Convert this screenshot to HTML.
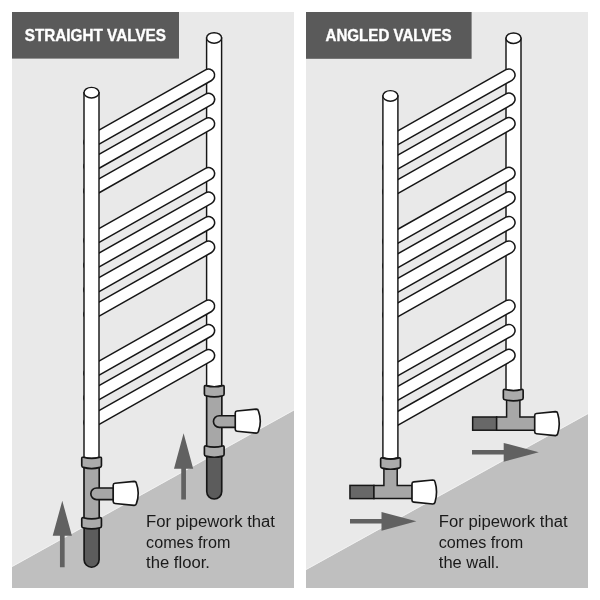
<!DOCTYPE html>
<html>
<head>
<meta charset="utf-8">
<title>Straight valves vs angled valves</title>
<style>
html,body{margin:0;padding:0;background:#fff;}
body{width:600px;height:600px;overflow:hidden;font-family:"Liberation Sans",sans-serif;}
svg{display:block;will-change:transform;}
</style>
</head>
<body>
<svg width="600" height="600" viewBox="0 0 600 600">
<rect x="12" y="12" width="282" height="576" fill="#e9e9e9"/>
<rect x="306" y="12" width="282" height="576" fill="#e9e9e9"/>
<polygon points="12,567 294,410.4 294,588 12,588" fill="#bfbfbf"/>
<polygon points="306,570 588,414 588,588 306,588" fill="#bfbfbf"/>
<line x1="12" y1="566.5" x2="294" y2="409.9" stroke="#f2f2f2" stroke-width="0.9"/>
<line x1="306" y1="569.5" x2="588" y2="413.5" stroke="#f2f2f2" stroke-width="0.9"/>
<rect x="12" y="12" width="167" height="46.6" fill="#5a5a5a"/>
<rect x="306" y="12" width="165.6" height="46.8" fill="#5a5a5a"/>
<text x="24.7" y="41" font-family="'Liberation Sans', sans-serif" font-size="15.9" font-weight="bold" fill="#fff" stroke="#fff" stroke-width="0.35" textLength="141.3" lengthAdjust="spacingAndGlyphs">STRAIGHT VALVES</text>
<text x="325.5" y="41" font-family="'Liberation Sans', sans-serif" font-size="15.9" font-weight="bold" fill="#fff" stroke="#fff" stroke-width="0.35" textLength="126.2" lengthAdjust="spacingAndGlyphs">ANGLED VALVES</text>
<!-- left radiator -->
<path d="M206.6,37.95 V385.5 Q214.1,388.1 221.6,385.5 V37.95 Z" fill="#fff" stroke="#161616" stroke-width="1.45"/><ellipse cx="214.1" cy="37.95" rx="7.5" ry="5.3" fill="#fff" stroke="#161616" stroke-width="1.45"/>
<line x1="90" y1="142.24" x2="208.55" y2="75.2" stroke="#161616" stroke-width="13.7" stroke-linecap="round"/>
<line x1="90" y1="142.24" x2="208.55" y2="75.2" stroke="#fff" stroke-width="10.65" stroke-linecap="round"/>
<line x1="90" y1="166.44" x2="208.55" y2="99.4" stroke="#161616" stroke-width="13.7" stroke-linecap="round"/>
<line x1="90" y1="166.44" x2="208.55" y2="99.4" stroke="#fff" stroke-width="10.65" stroke-linecap="round"/>
<line x1="90" y1="190.94" x2="208.55" y2="123.9" stroke="#161616" stroke-width="13.7" stroke-linecap="round"/>
<line x1="90" y1="190.94" x2="208.55" y2="123.9" stroke="#fff" stroke-width="10.65" stroke-linecap="round"/>
<line x1="90" y1="240.64" x2="208.55" y2="173.6" stroke="#161616" stroke-width="13.7" stroke-linecap="round"/>
<line x1="90" y1="240.64" x2="208.55" y2="173.6" stroke="#fff" stroke-width="10.65" stroke-linecap="round"/>
<line x1="90" y1="265.14" x2="208.55" y2="198.1" stroke="#161616" stroke-width="13.7" stroke-linecap="round"/>
<line x1="90" y1="265.14" x2="208.55" y2="198.1" stroke="#fff" stroke-width="10.65" stroke-linecap="round"/>
<line x1="90" y1="289.74" x2="208.55" y2="222.7" stroke="#161616" stroke-width="13.7" stroke-linecap="round"/>
<line x1="90" y1="289.74" x2="208.55" y2="222.7" stroke="#fff" stroke-width="10.65" stroke-linecap="round"/>
<line x1="90" y1="314.24" x2="208.55" y2="247.2" stroke="#161616" stroke-width="13.7" stroke-linecap="round"/>
<line x1="90" y1="314.24" x2="208.55" y2="247.2" stroke="#fff" stroke-width="10.65" stroke-linecap="round"/>
<line x1="90" y1="373.24" x2="208.55" y2="306.2" stroke="#161616" stroke-width="13.7" stroke-linecap="round"/>
<line x1="90" y1="373.24" x2="208.55" y2="306.2" stroke="#fff" stroke-width="10.65" stroke-linecap="round"/>
<line x1="90" y1="397.74" x2="208.55" y2="330.7" stroke="#161616" stroke-width="13.7" stroke-linecap="round"/>
<line x1="90" y1="397.74" x2="208.55" y2="330.7" stroke="#fff" stroke-width="10.65" stroke-linecap="round"/>
<line x1="90" y1="422.64" x2="208.55" y2="355.6" stroke="#161616" stroke-width="13.7" stroke-linecap="round"/>
<line x1="90" y1="422.64" x2="208.55" y2="355.6" stroke="#fff" stroke-width="10.65" stroke-linecap="round"/>
<path d="M84,92.7 V457.3 Q91.5,459.9 99,457.3 V92.7 Z" fill="#fff" stroke="#161616" stroke-width="1.45"/><ellipse cx="91.5" cy="92.7" rx="7.5" ry="5.3" fill="#fff" stroke="#161616" stroke-width="1.45"/>
<path d="M206.75,455.7 V491.5 A7.5,7.5 0 0 0 221.75,491.5 V455.7 Z" fill="#5c5c5c" stroke="#161616" stroke-width="1.65"/>
<rect x="206.65" y="393.3" width="15.2" height="54.4" fill="#a7a7a7" stroke="#161616" stroke-width="1.65"/>
<path d="M236.25,415.7 H219.3 A5.85,5.85 0 0 0 219.3,427.4 H236.25 Z" fill="#a7a7a7" stroke="#161616" stroke-width="1.65"/>
<path d="M235.25,413 Q235.25,411.2 237.05,411.05 L256.25,409.15 Q258.05,409.15 258.45,410.95 A29.8,29.8 0 0 1 258.45,431.35 Q258.05,433.15 256.25,433.15 L237.05,431.25 Q235.25,431.1 235.25,429.3 Z" fill="#fff" stroke="#161616" stroke-width="1.65" stroke-linejoin="round"/>
<path d="M204.4,386.8 Q204.4,385.3 205.9,385.6 Q214.25,387.9 222.6,385.6 Q224.1,385.3 224.1,386.8 V393.9 Q224.1,395.4 222.6,395.7 Q214.25,398 205.9,395.7 Q204.4,395.4 204.4,393.9 Z" fill="#ababab" stroke="#161616" stroke-width="1.65"/>
<path d="M204.4,447.2 Q204.4,445.7 205.9,446 Q214.25,448.3 222.6,446 Q224.1,445.7 224.1,447.2 V454.3 Q224.1,455.8 222.6,456.1 Q214.25,458.4 205.9,456.1 Q204.4,455.8 204.4,454.3 Z" fill="#ababab" stroke="#161616" stroke-width="1.65"/>
<path d="M84.1,527.4 V559.7 A7.5,7.5 0 0 0 99.1,559.7 V527.4 Z" fill="#5c5c5c" stroke="#161616" stroke-width="1.65"/>
<rect x="84" y="465" width="15.2" height="54.4" fill="#a7a7a7" stroke="#161616" stroke-width="1.65"/>
<path d="M113.6,487.95 H96.65 A5.85,5.85 0 0 0 96.65,499.65 H113.6 Z" fill="#a7a7a7" stroke="#161616" stroke-width="1.65"/>
<path d="M113.2,485.25 Q113.2,483.45 115,483.3 L134.2,481.4 Q136,481.4 136.4,483.2 A29.8,29.8 0 0 1 136.4,503.6 Q136,505.4 134.2,505.4 L115,503.5 Q113.2,503.35 113.2,501.55 Z" fill="#fff" stroke="#161616" stroke-width="1.65" stroke-linejoin="round"/>
<path d="M81.75,458.5 Q81.75,457 83.25,457.3 Q91.6,459.6 99.95,457.3 Q101.45,457 101.45,458.5 V465.6 Q101.45,467.1 99.95,467.4 Q91.6,469.7 83.25,467.4 Q81.75,467.1 81.75,465.6 Z" fill="#ababab" stroke="#161616" stroke-width="1.65"/>
<path d="M81.75,518.9 Q81.75,517.4 83.25,517.7 Q91.6,520 99.95,517.7 Q101.45,517.4 101.45,518.9 V526 Q101.45,527.5 99.95,527.8 Q91.6,530.1 83.25,527.8 Q81.75,527.5 81.75,526 Z" fill="#ababab" stroke="#161616" stroke-width="1.65"/>
<path d="M62.3,500.8 L71.9,535.8 H64.65 V567.3 H59.95 V535.8 H52.7 Z" fill="#616161"/>
<path d="M183.6,433.3 L193.2,468.7 H185.95 V499.6 H181.25 V468.7 H174 Z" fill="#616161"/>
<text x="146.1" y="526.7" font-family="'Liberation Sans', sans-serif" font-size="15.6" font-weight="normal" fill="#1a1a1a" textLength="128.9" lengthAdjust="spacingAndGlyphs">For pipework that</text>
<text x="146.1" y="547.5" font-family="'Liberation Sans', sans-serif" font-size="15.6" font-weight="normal" fill="#1a1a1a" textLength="84.3" lengthAdjust="spacingAndGlyphs">comes from</text>
<text x="146.1" y="568" font-family="'Liberation Sans', sans-serif" font-size="15.6" font-weight="normal" fill="#1a1a1a" textLength="63.9" lengthAdjust="spacingAndGlyphs">the floor.</text>
<!-- right radiator -->
<path d="M506,38.2 V389.5 Q513.5,392.1 521,389.5 V38.2 Z" fill="#fff" stroke="#161616" stroke-width="1.45"/><ellipse cx="513.5" cy="38.2" rx="7.5" ry="5.3" fill="#fff" stroke="#161616" stroke-width="1.45"/>
<line x1="388.9" y1="142.89" x2="508.95" y2="75" stroke="#161616" stroke-width="13.7" stroke-linecap="round"/>
<line x1="388.9" y1="142.89" x2="508.95" y2="75" stroke="#fff" stroke-width="10.65" stroke-linecap="round"/>
<line x1="388.9" y1="167.09" x2="508.95" y2="99.2" stroke="#161616" stroke-width="13.7" stroke-linecap="round"/>
<line x1="388.9" y1="167.09" x2="508.95" y2="99.2" stroke="#fff" stroke-width="10.65" stroke-linecap="round"/>
<line x1="388.9" y1="191.59" x2="508.95" y2="123.7" stroke="#161616" stroke-width="13.7" stroke-linecap="round"/>
<line x1="388.9" y1="191.59" x2="508.95" y2="123.7" stroke="#fff" stroke-width="10.65" stroke-linecap="round"/>
<line x1="388.9" y1="241.29" x2="508.95" y2="173.4" stroke="#161616" stroke-width="13.7" stroke-linecap="round"/>
<line x1="388.9" y1="241.29" x2="508.95" y2="173.4" stroke="#fff" stroke-width="10.65" stroke-linecap="round"/>
<line x1="388.9" y1="265.79" x2="508.95" y2="197.9" stroke="#161616" stroke-width="13.7" stroke-linecap="round"/>
<line x1="388.9" y1="265.79" x2="508.95" y2="197.9" stroke="#fff" stroke-width="10.65" stroke-linecap="round"/>
<line x1="388.9" y1="290.39" x2="508.95" y2="222.5" stroke="#161616" stroke-width="13.7" stroke-linecap="round"/>
<line x1="388.9" y1="290.39" x2="508.95" y2="222.5" stroke="#fff" stroke-width="10.65" stroke-linecap="round"/>
<line x1="388.9" y1="314.89" x2="508.95" y2="247" stroke="#161616" stroke-width="13.7" stroke-linecap="round"/>
<line x1="388.9" y1="314.89" x2="508.95" y2="247" stroke="#fff" stroke-width="10.65" stroke-linecap="round"/>
<line x1="388.9" y1="373.89" x2="508.95" y2="306" stroke="#161616" stroke-width="13.7" stroke-linecap="round"/>
<line x1="388.9" y1="373.89" x2="508.95" y2="306" stroke="#fff" stroke-width="10.65" stroke-linecap="round"/>
<line x1="388.9" y1="398.39" x2="508.95" y2="330.5" stroke="#161616" stroke-width="13.7" stroke-linecap="round"/>
<line x1="388.9" y1="398.39" x2="508.95" y2="330.5" stroke="#fff" stroke-width="10.65" stroke-linecap="round"/>
<line x1="388.9" y1="423.29" x2="508.95" y2="355.4" stroke="#161616" stroke-width="13.7" stroke-linecap="round"/>
<line x1="388.9" y1="423.29" x2="508.95" y2="355.4" stroke="#fff" stroke-width="10.65" stroke-linecap="round"/>
<path d="M382.9,95.9 V457.8 Q390.4,460.4 397.9,457.8 V95.9 Z" fill="#fff" stroke="#161616" stroke-width="1.45"/><ellipse cx="390.4" cy="95.9" rx="7.5" ry="5.3" fill="#fff" stroke="#161616" stroke-width="1.45"/>
<rect x="472.65" y="417" width="24" height="13.2" fill="#686868" stroke="#161616" stroke-width="1.5"/>
<path d="M496.65,417 H506.6 V397.2 H519.9 V417 H535.15 V430.2 H496.65 Z" fill="#a7a7a7" stroke="#161616" stroke-width="1.5"/>
<path d="M534.7,415.45 Q534.7,413.65 536.5,413.5 L555.5,411.6 Q557.3,411.6 557.7,413.4 A35.43,35.43 0 0 1 557.7,433.8 Q557.3,435.6 555.5,435.6 L536.5,433.7 Q534.7,433.55 534.7,431.75 Z" fill="#fff" stroke="#161616" stroke-width="1.65" stroke-linejoin="round"/>
<path d="M503.35,390.7 Q503.35,389.2 504.85,389.5 Q513.25,391.8 521.65,389.5 Q523.15,389.2 523.15,390.7 V397.9 Q523.15,399.4 521.65,399.7 Q513.25,402 504.85,399.7 Q503.35,399.4 503.35,397.9 Z" fill="#ababab" stroke="#161616" stroke-width="1.65"/>
<rect x="349.95" y="485.4" width="24" height="13.2" fill="#686868" stroke="#161616" stroke-width="1.5"/>
<path d="M373.95,485.4 H383.9 V465.6 H397.2 V485.4 H412.45 V498.6 H373.95 Z" fill="#a7a7a7" stroke="#161616" stroke-width="1.5"/>
<path d="M412,483.85 Q412,482.05 413.8,481.9 L432.8,480 Q434.6,480 435,481.8 A35.43,35.43 0 0 1 435,502.2 Q434.6,504 432.8,504 L413.8,502.1 Q412,501.95 412,500.15 Z" fill="#fff" stroke="#161616" stroke-width="1.65" stroke-linejoin="round"/>
<path d="M380.65,459.1 Q380.65,457.6 382.15,457.9 Q390.55,460.2 398.95,457.9 Q400.45,457.6 400.45,459.1 V466.3 Q400.45,467.8 398.95,468.1 Q390.55,470.4 382.15,468.1 Q380.65,467.8 380.65,466.3 Z" fill="#ababab" stroke="#161616" stroke-width="1.65"/>
<path d="M538.8,452.3 L503.7,461.7 V454.5 H472 V450.1 H503.7 V442.9 Z" fill="#616161"/>
<path d="M416.4,521.3 L381.5,530.7 V523.5 H350 V519.1 H381.5 V511.9 Z" fill="#616161"/>
<text x="438.8" y="526.7" font-family="'Liberation Sans', sans-serif" font-size="15.6" font-weight="normal" fill="#1a1a1a" textLength="128.8" lengthAdjust="spacingAndGlyphs">For pipework that</text>
<text x="438.8" y="547.5" font-family="'Liberation Sans', sans-serif" font-size="15.6" font-weight="normal" fill="#1a1a1a" textLength="84.3" lengthAdjust="spacingAndGlyphs">comes from</text>
<text x="438.8" y="568" font-family="'Liberation Sans', sans-serif" font-size="15.6" font-weight="normal" fill="#1a1a1a" textLength="60.6" lengthAdjust="spacingAndGlyphs">the wall.</text>
</svg>
</body>
</html>
